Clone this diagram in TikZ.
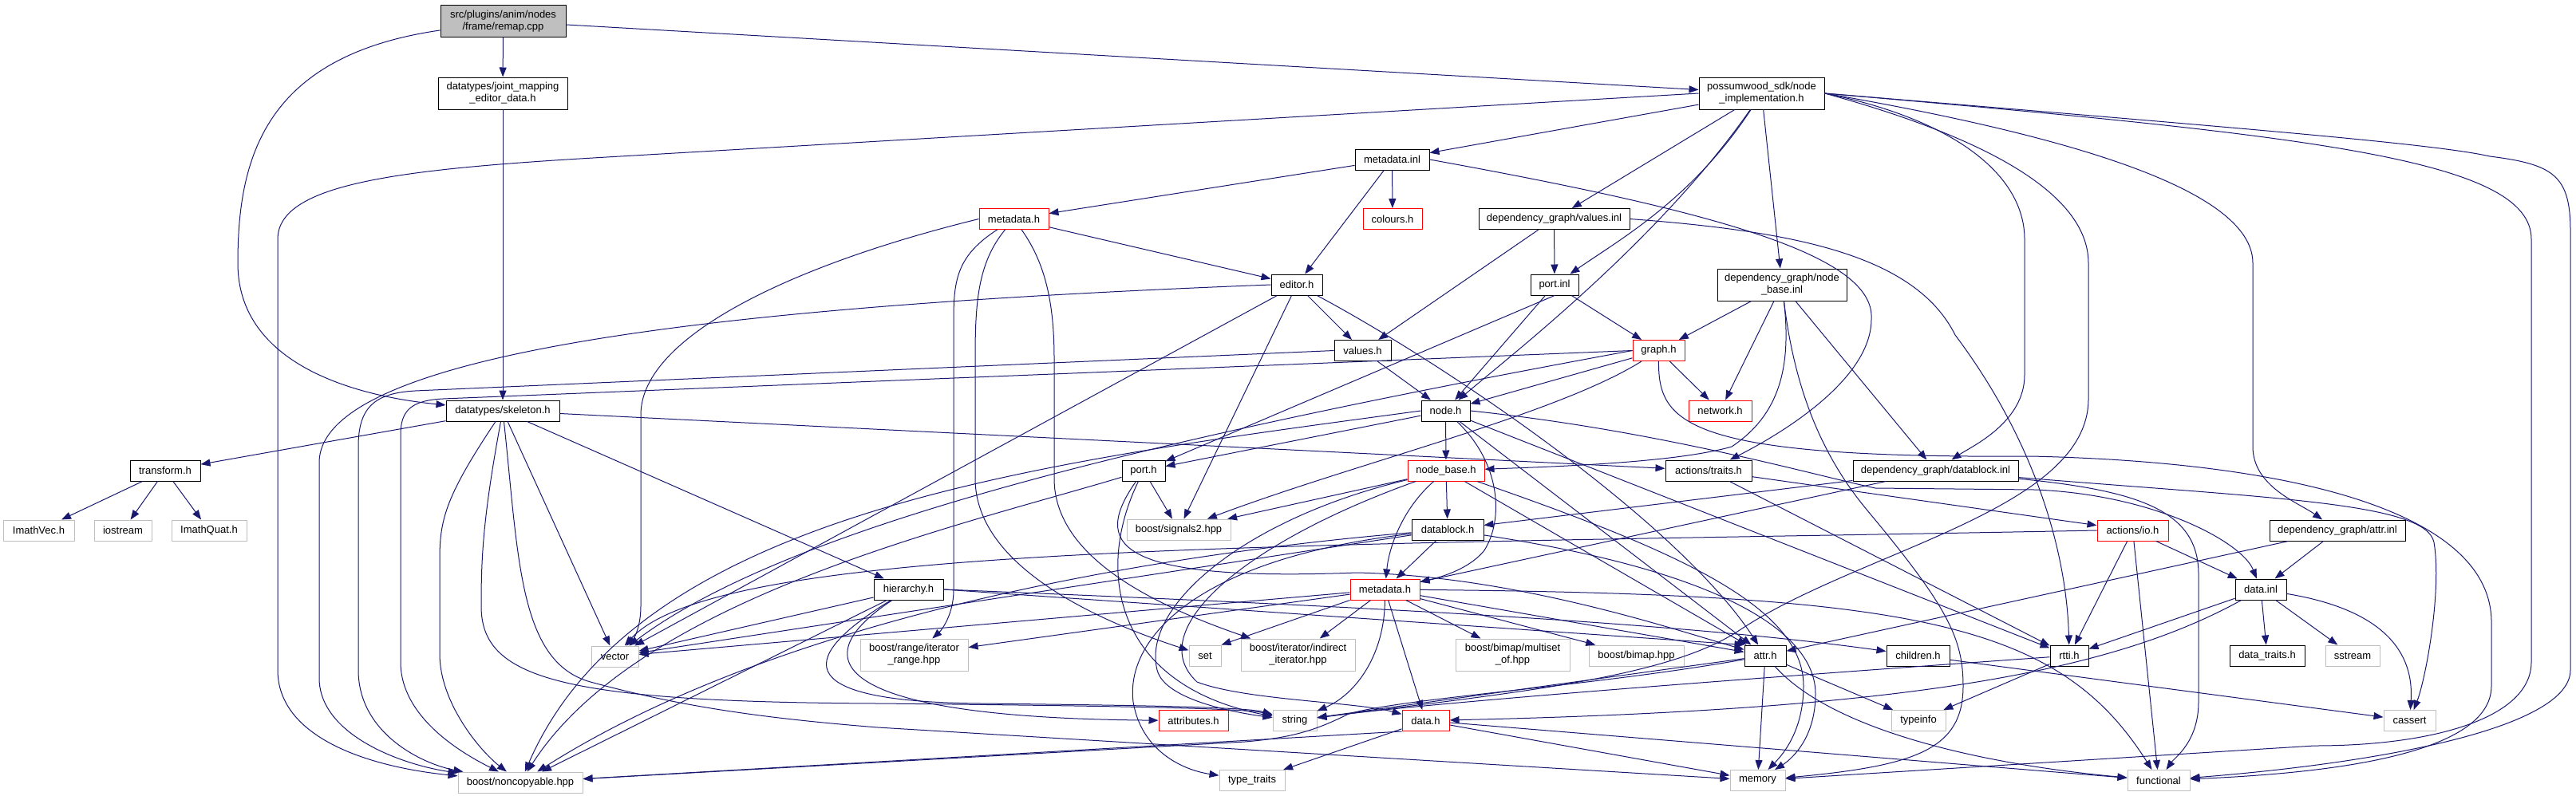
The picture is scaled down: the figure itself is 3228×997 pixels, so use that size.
\documentclass[tikz,border=0pt]{standalone}
\usepackage{fontspec}
\setmainfont{Liberation Sans}
\usepackage{xcolor}
\usepackage{tikz}
\usetikzlibrary{arrows.meta}

\definecolor{edgeblue}{HTML}{191970}
\definecolor{extgray}{HTML}{BFBFBF}
\definecolor{truncred}{HTML}{FF0000}

\begin{document}
\begin{tikzpicture}[
  x=1pt, y=-1pt,
  file/.style={draw=black, line width=1pt, fill=white, align=center, inner sep=0pt,
    minimum height=26pt, font=\fontsize{13}{15}\selectfont},
  doc/.style={file},
  trunc/.style={file, draw=truncred},
  ext/.style={file, draw=extgray},
  root/.style={file, fill=extgray},
  tall/.style={minimum height=40pt},
  edge/.style={draw=edgeblue, line width=1pt, -{Triangle[length=12pt,width=9pt]}}
]
\useasboundingbox (0,0) rectangle (3228,997);

% files
\node[root, tall, minimum width=157pt] (remap) at (630.5,26.5) {src/plugins/anim/nodes\\/frame/remap.cpp};
\node[doc, tall, minimum width=162pt] (jmed) at (630,117) {datatypes/joint\_mapping\\\_editor\_data.h};
\node[doc, tall, minimum width=157pt] (sdk) at (2207.5,117) {possumwood\_sdk/node\\\_implementation.h};
\node[doc, minimum width=93pt] (minl) at (1744.5,200) {metadata.inl};
\node[trunc, minimum width=87pt] (mdh1) at (1270.5,274.5) {metadata.h};
\node[trunc, minimum width=74pt] (colours) at (1745,274.5) {colours.h};
\node[doc, minimum width=189pt] (valinl) at (1947.5,274.5) {dependency\_graph/values.inl};
\node[doc, minimum width=64pt] (editor) at (1625,357) {editor.h};
\node[doc, minimum width=60pt] (portinl) at (1948,357) {port.inl};
\node[doc, tall, minimum width=162pt] (nbinl) at (2233,357) {dependency\_graph/node\\\_base.inl};
\node[doc, minimum width=71pt] (valuesh) at (1707.5,439.5) {values.h};
\node[trunc, minimum width=65pt] (graph) at (2078.5,439.5) {graph.h};
\node[doc, minimum width=142pt] (skel) at (630,515) {datatypes/skeleton.h};
\node[doc, minimum width=61pt] (nodeh) at (1811.5,515) {node.h};
\node[trunc, minimum width=79pt] (network) at (2155.5,515) {network.h};
\node[doc, minimum width=88pt] (transform) at (207,590) {transform.h};
\node[doc, minimum width=54pt] (porth) at (1433,590) {port.h};
\node[trunc, minimum width=96pt] (nbh) at (1812,590) {node\_base.h};
\node[doc, minimum width=108pt] (traits) at (2141,590) {actions/traits.h};
\node[doc, minimum width=207pt] (dbinl) at (2425.5,590) {dependency\_graph/datablock.inl};
\node[ext, minimum width=89pt] (imvec) at (48.5,665) {ImathVec.h};
\node[ext, minimum width=72pt] (iostream) at (154,665) {iostream};
\node[ext, minimum width=94pt] (imquat) at (262,665) {ImathQuat.h};
\node[ext, minimum width=130pt] (signals) at (1477,664) {boost/signals2.hpp};
\node[doc, minimum width=90pt] (dbh) at (1814,664) {datablock.h};
\node[trunc, minimum width=89pt] (io) at (2672.5,665) {actions/io.h};
\node[doc, minimum width=170pt] (attrinl) at (2929,665) {dependency\_graph/attr.inl};
\node[doc, minimum width=87pt] (hier) at (1138.5,739) {hierarchy.h};
\node[trunc, minimum width=87pt] (mdh2) at (1735.5,739) {metadata.h};
\node[doc, minimum width=64pt] (datainl) at (2833,739) {data.inl};
\node[ext, tall, minimum width=135pt] (range) at (1145.5,821) {boost/range/iterator\\\_range.hpp};
\node[ext, minimum width=40pt] (set) at (1510,822) {set};
\node[ext, tall, minimum width=143pt] (indirect) at (1626.5,821) {boost/iterator/indirect\\\_iterator.hpp};
\node[ext, tall, minimum width=143pt] (multiset) at (1895.5,821) {boost/bimap/multiset\\\_of.hpp};
\node[ext, minimum width=119pt] (bimap) at (2050.5,822) {boost/bimap.hpp};
\node[doc, minimum width=52pt] (attrh) at (2212,822) {attr.h};
\node[doc, minimum width=79pt] (children) at (2403.5,822) {children.h};
\node[doc, minimum width=48pt] (rtti) at (2593,822) {rtti.h};
\node[doc, minimum width=94pt] (dtraits) at (2841,822) {data\_traits.h};
\node[ext, minimum width=68pt] (sstream) at (2948,822) {sstream};
\node[ext, minimum width=59pt] (vector) at (770.5,823) {vector};
\node[trunc, minimum width=87pt] (attributes) at (1495.5,903.5) {attributes.h};
\node[ext, minimum width=55pt] (string) at (1622.5,903.5) {string};
\node[trunc, minimum width=59pt] (datah) at (1786.5,903.5) {data.h};
\node[ext, minimum width=68pt] (typeinfo) at (2404,903.5) {typeinfo};
\node[ext, minimum width=65pt] (cassert) at (3019.5,903.5) {cassert};
\node[ext, minimum width=82pt] (ttraits) at (1569,978.5) {type\_traits};
\node[ext, minimum width=69pt] (memory) at (2202.5,978.5) {memory};
\node[ext, minimum width=78pt] (functional) at (2705,978.5) {functional};
\node[ext, minimum width=156pt] (noncopy) at (652,981) {boost/noncopyable.hpp};

% remap.cpp
\draw[edge] (remap) -- (jmed);
\draw[edge] (remap) .. controls (330,70) and (298,200) .. (298,330) .. controls (298,450) and (430,495) .. (skel);
\draw[edge] (remap) -- (sdk);
\draw[edge] (jmed) -- (skel);

% node_implementation.h
\draw[edge] (sdk) -- (minl);
\draw[edge] (sdk) -- (valinl);
\draw[edge] (sdk) .. controls (2120,250) and (2030,300) .. (portinl);
\draw[edge] (sdk) .. controls (2080,300) and (1900,440) .. (nodeh);
\draw[edge] (sdk) -- (nbinl);
\draw[edge] (sdk.west) -- (760,197) .. controls (500,212) and (348,230) .. (348,300) -- (348,840) .. controls (348,920) and (450,960) .. (noncopy);
\draw[edge] (sdk.east) .. controls (2450,150) and (2537,220) .. (2537,300) -- (2537,470) .. controls (2537,530) and (2470,560) .. (dbinl);
\draw[edge] (sdk.east) .. controls (2480,170) and (2617,240) .. (2617,330) -- (2617,500) .. controls (2617,640) and (2330,690) .. (2180,790) .. controls (2090,850) and (1900,868) .. (string);
\draw[edge] (sdk.east) .. controls (2650,180) and (2823,250) .. (2823,330) -- (2823,560) .. controls (2823,610) and (2880,630) .. (attrinl);
\draw[edge] (sdk.east) .. controls (2900,170) and (3172,200) .. (3172,300) -- (3172,830) .. controls (3172,900) and (3050,935) .. (2900,935) -- (memory);
\draw[edge] (sdk.east) .. controls (2800,160) and (3050,180) .. (3120,196) .. controls (3200,206) and (3221,220) .. (3221,290) -- (3221,840) .. controls (3221,910) and (3000,955) .. (functional);

% metadata.inl
\draw[edge] (minl) -- (mdh1);
\draw[edge] (minl) -- (colours);
\draw[edge] (minl) -- (editor);
\draw[edge] (minl.east) .. controls (2150,265) and (2350,320) .. (2345,400) .. controls (2345,480) and (2220,550) .. (traits);

% metadata.h (sdk)
\draw[edge] (mdh1) -- (editor);
\draw[edge] (mdh1.west) .. controls (1000,330) and (803,420) .. (803,520) -- (803,760) .. controls (803,785) and (795,800) .. (vector);
\draw[edge] (mdh1) .. controls (1200,320) and (1195,350) .. (1195,400) -- (1195,740) .. controls (1195,770) and (1180,790) .. (range);
\draw[edge] (mdh1) .. controls (1225,330) and (1222,380) .. (1222,450) -- (1222,600) .. controls (1222,700) and (1350,770) .. (set);
\draw[edge] (mdh1) .. controls (1310,330) and (1321,380) .. (1321,450) -- (1321,600) .. controls (1321,700) and (1450,760) .. (indirect);

% editor.h
\draw[edge] (editor.west) .. controls (1000,380) and (400,430) .. (400,580) -- (400,850) .. controls (400,920) and (500,958) .. (noncopy);
\draw[edge] (editor) -- (vector);
\draw[edge] (editor) -- (signals);
\draw[edge] (editor) -- (valuesh);
\draw[edge] (editor) .. controls (1800,450) and (2100,650) .. (attrh);

% values.inl, port.inl
\draw[edge] (valinl) -- (valuesh);
\draw[edge] (valinl) -- (portinl);
\draw[edge] (valinl.east) .. controls (2250,290) and (2400,320) .. (2450,420) .. controls (2555,560) and (2590,700) .. (rtti);
\draw[edge] (portinl.south) -- (porth);
\draw[edge] (portinl) -- (nodeh);
\draw[edge] (portinl) -- (graph);

% node_base.inl
\draw[edge] (nbinl) -- (graph);
\draw[edge] (nbinl) -- (network);
\draw[edge] (nbinl) .. controls (2245,460) and (2230,520) .. (2170,560) .. controls (2100,580) and (1950,585) .. (nbh);
\draw[edge] (nbinl) -- (dbinl);
\draw[edge] (nbinl) .. controls (2250,500) and (2290,580) .. (2340,640) .. controls (2440,760) and (2460,800) .. (2460,860) .. controls (2460,940) and (2400,960) .. (memory);

% values.h, graph.h
\draw[edge] (valuesh) -- (nodeh);
\draw[edge] (valuesh.west) -- (520,490) .. controls (470,493) and (449,510) .. (449,560) -- (449,840) .. controls (449,920) and (530,958) .. (noncopy);
\draw[edge] (graph) -- (nodeh);
\draw[edge] (graph) -- (network);
\draw[edge] (graph.west) -- (555,500) .. controls (515,502) and (502,515) .. (502,545) -- (502,830) .. controls (502,900) and (580,945) .. (noncopy);
\draw[edge] (graph) .. controls (1950,520) and (1700,580) .. (signals);
\draw[edge] (graph.west) .. controls (1500,540) and (1000,650) .. (vector);
\draw[edge] (graph) .. controls (2078,530) and (2110,575) .. (2545,572) .. controls (2900,580) and (3122,650) .. (3122,780) -- (3122,860) .. controls (3122,950) and (2900,970) .. (functional);

% skeleton.h, transform.h
\draw[edge] (skel) -- (transform);
\draw[edge] (skel) -- (traits);
\draw[edge] (skel) -- (hier);
\draw[edge] (skel) -- (vector);
\draw[edge] (skel) .. controls (560,620) and (551,650) .. (551,700) -- (551,820) .. controls (551,880) and (600,940) .. (noncopy);
\draw[edge] (skel) .. controls (605,650) and (603,700) .. (603,760) .. controls (603,850) and (700,880) .. (1100,882) .. controls (1400,885) and (1560,888) .. (string);
\draw[edge] (skel) .. controls (650,700) and (650,830) .. (740,855) .. controls (850,885) and (950,900) .. (1100,912) -- (memory);
\draw[edge] (transform) -- (imvec);
\draw[edge] (transform) -- (iostream);
\draw[edge] (transform) -- (imquat);

% node.h
\draw[edge] (nodeh) -- (porth);
\draw[edge] (nodeh) -- (nbh);
\draw[edge] (nodeh) .. controls (1880,580) and (1885,650) .. (1860,690) .. controls (1840,715) and (1800,725) .. (mdh2);
\draw[edge] (nodeh) -- (attrh);
\draw[edge] (nodeh) -- (rtti);
\draw[edge] (nodeh.west) .. controls (1300,580) and (800,640) .. (noncopy);
\draw[edge] (nodeh.east) .. controls (2080,540) and (2270,595) .. (2350,612) -- (2550,614) .. controls (2700,620) and (2810,680) .. (datainl);

% port.h
\draw[edge] (porth) -- (signals);
\draw[edge] (porth) .. controls (1370,720) and (1400,860) .. (string);
\draw[edge] (porth) .. controls (1370,680) and (1390,730) .. (1700,718) .. controls (1900,722) and (2100,790) .. (attrh);
\draw[edge] (porth) .. controls (1200,660) and (800,750) .. (noncopy);

% node_base.h
\draw[edge] (nbh) -- (dbh);
\draw[edge] (nbh) .. controls (1755,640) and (1740,690) .. (mdh2);
\draw[edge] (nbh) .. controls (1560,650) and (1430,760) .. (1450,840) .. controls (1460,880) and (1560,895) .. (string);
\draw[edge] (nbh) .. controls (1560,680) and (1430,790) .. (1500,855) .. controls (1560,878) and (1700,880) .. (datah);
\draw[edge] (nbh) -- (attrh);
\draw[edge] (nbh) -- (signals);
\draw[edge] (nbh) .. controls (2100,690) and (2260,760) .. (2260,860) .. controls (2260,920) and (2230,950) .. (memory);

% actions/traits.h, datablock.inl
\draw[edge] (traits) -- (io);
\draw[edge] (traits) -- (rtti);
\draw[edge] (dbinl) -- (dbh);
\draw[edge] (dbinl) -- (mdh2);
\draw[edge] (dbinl) .. controls (2680,615) and (2755,640) .. (2755,720) -- (2755,880) .. controls (2755,930) and (2725,950) .. (functional);
\draw[edge] (dbinl) .. controls (2850,625) and (3040,630) .. (3050,680) .. controls (3060,740) and (3040,850) .. (cassert);

% datablock.h
\draw[edge] (dbh) -- (mdh2);
\draw[edge] (dbh) -- (vector);
\draw[edge] (dbh) .. controls (1500,690) and (1000,760) .. (noncopy);
\draw[edge] (dbh) .. controls (2150,715) and (2275,790) .. (2275,870) .. controls (2275,930) and (2240,955) .. (memory);
\draw[edge] (dbh) .. controls (1500,700) and (1410,800) .. (1420,880) .. controls (1430,940) and (1480,965) .. (ttraits);

% actions/io.h, attr.inl
\draw[edge] (io) -- (rtti);
\draw[edge] (io) -- (functional);
\draw[edge] (io) -- (datainl);
\draw[edge] (io.west) .. controls (1600,685) and (900,680) .. (vector);
\draw[edge] (attrinl) -- (datainl);
\draw[edge] (attrinl) -- (attrh);

% hierarchy.h
\draw[edge] (hier) -- (vector);
\draw[edge] (hier) -- (noncopy);
\draw[edge] (hier) .. controls (1000,830) and (1050,900) .. (attributes);
\draw[edge] (hier) .. controls (990,830) and (1000,880) .. (1230,882) .. controls (1400,884) and (1560,886) .. (string);
\draw[edge] (hier.east) .. controls (1700,760) and (2100,780) .. (children);
\draw[edge] (hier.east) -- (attrh.north west);

% metadata.h (dependency_graph)
\draw[edge] (mdh2) -- (range);
\draw[edge] (mdh2.south west) -- (set.north east);
\draw[edge] (mdh2) -- (indirect);
\draw[edge] (mdh2) -- (multiset);
\draw[edge] (mdh2) -- (bimap);
\draw[edge] (mdh2) .. controls (1735,820) and (1700,870) .. (string);
\draw[edge] (mdh2) -- (datah);
\draw[edge] (mdh2) -- (vector);
\draw[edge] (mdh2) -- (attrh);
\draw[edge] (mdh2) .. controls (2400,745) and (2580,780) .. (functional);

% data.inl
\draw[edge] (datainl) -- (rtti);
\draw[edge] (datainl) .. controls (2650,840) and (2400,890) .. (datah);
\draw[edge] (datainl) -- (dtraits);
\draw[edge] (datainl) -- (sstream);
\draw[edge] (datainl) .. controls (2990,765) and (3025,820) .. (cassert);

% attr.h
\draw[edge] (attrh) .. controls (2000,860) and (1760,875) .. (1690,895) .. controls (1650,915) and (1620,925) .. (1560,930) -- (noncopy);
\draw[edge] (attrh) -- (string);
\draw[edge] (attrh) -- (memory);
\draw[edge] (attrh) -- (typeinfo);
\draw[edge] (attrh) .. controls (2300,920) and (2500,960) .. (functional);

% children.h, rtti.h, data.h
\draw[edge] (children) -- (cassert);
\draw[edge] (rtti) .. controls (2200,850) and (1800,880) .. (string);
\draw[edge] (rtti) -- (typeinfo);
\draw[edge] (datah) -- (ttraits);
\draw[edge] (datah) -- (memory);
\draw[edge] (datah) -- (functional);
\draw[edge] (datah.south west) -- (noncopy);
\end{tikzpicture}
\end{document}
